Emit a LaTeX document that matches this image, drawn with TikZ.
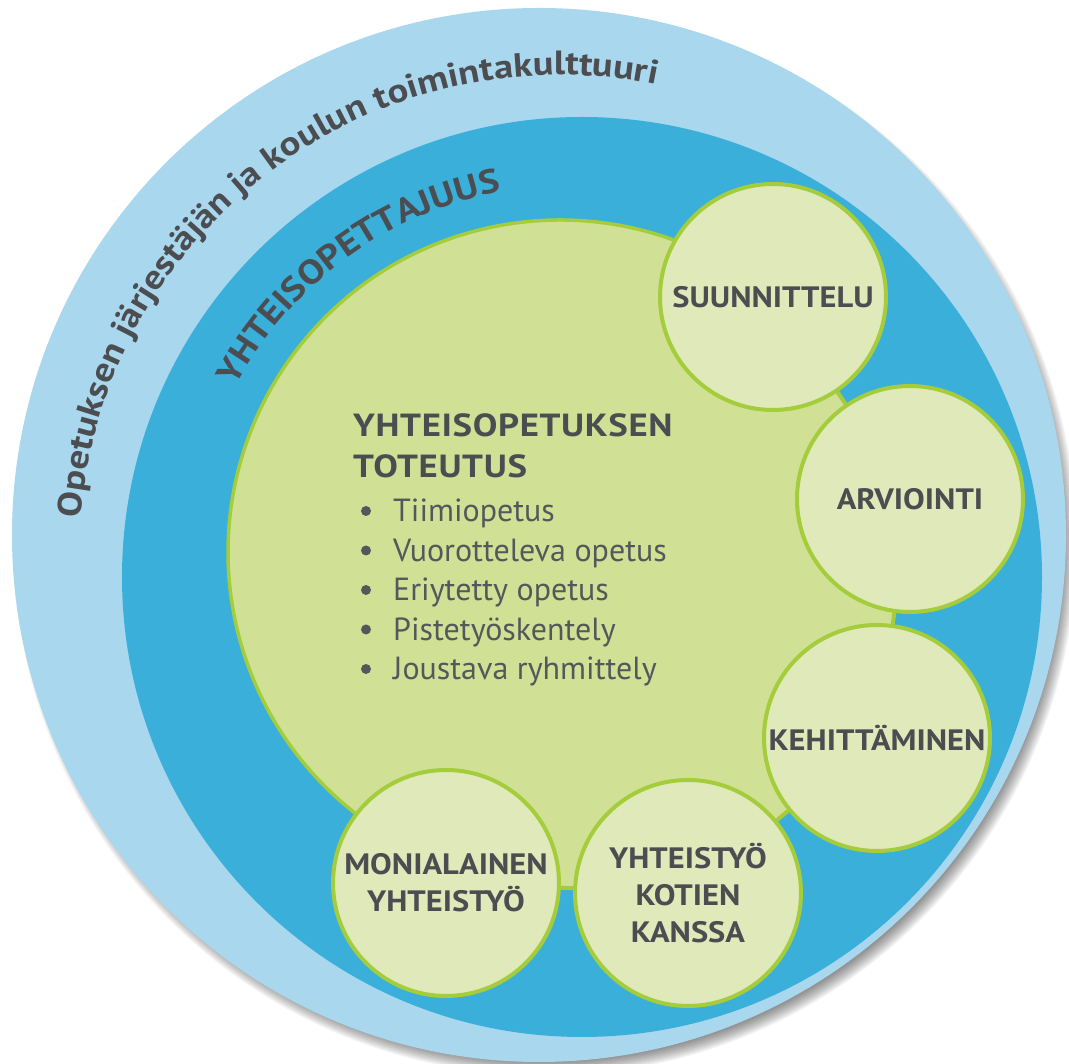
\documentclass[tikz,border=0pt]{standalone}
\usepackage{fontspec}
\setmainfont{PT Sans}
\newfontfamily\ringfont{PT Sans}[FakeStretch=1.15]
\newfontfamily\labelfont{PT Sans}[FakeStretch=1.1]
\newfontfamily\titlefont{PT Sans}[FakeStretch=1.15, LetterSpace=2]
\usetikzlibrary{decorations.text}
\definecolor{outerblue}{HTML}{A9D7EE}
\definecolor{ringblue}{HTML}{3AAFDA}
\definecolor{maingreen}{HTML}{D0E196}
\definecolor{smallgreen}{HTML}{DFE9BA}
\definecolor{limeborder}{HTML}{A5CC3A}
\definecolor{textgray}{HTML}{4B4D50}
\definecolor{bulletgray}{HTML}{55585B}
\begin{document}
\begin{tikzpicture}[x=1pt,y=1pt,
  topic/.style={circle, fill=smallgreen, draw=limeborder, line width=4pt, minimum size=226pt, inner sep=0pt, align=center, text=textgray, font=\labelfont\bfseries\fontsize{29.5}{37}\selectfont},
  bar/.style={draw=limeborder, line width=4pt},
  titleline/.style={anchor=base west, inner sep=0pt, text=textgray, font=\titlefont\bfseries\fontsize{32}{32}\selectfont},
  bulletitem/.style={anchor=base west, inner sep=0pt, text=bulletgray, font=\fontsize{32}{32}\selectfont},
  bulletdot/.style={fill=bulletgray},
  ringtext/.style={decorate, decoration={text along path, text color=textgray, text align=left, text={#1}}}
]
\useasboundingbox (0,0) rectangle (1069,1064);
\fill[white] (0,0) rectangle (1069,1064);
% shadow
\foreach \i in {0,...,11} {
  \fill[black, opacity=0.05] (545,520) circle ({515+\i*1.5});
}
% rings
\fill[outerblue] (539,529) circle (527);
\fill[ringblue] (582,487) circle (460);
% centres
\coordinate (C) at (560,512);
\coordinate (cS) at (773,767);
\coordinate (cA) at (910,565);
\coordinate (cK) at (877,326);
\coordinate (cY) at (688,171);
\coordinate (cM) at (446,181);
% main green shape
\begin{scope}
  \clip (cS) -- (cA) -- (cK) -- (cY) -- (cM) -- (218,-481) -- (-1000,-1000) -- (-1000,2000) -- (2000,2000) -- (1199,1277) -- cycle;
  \fill[maingreen] (C) circle (332);
  \fill[maingreen] (C) -- (cS) -- (cA) -- (cK) -- (cY) -- (cM) -- cycle;
\end{scope}
\draw[limeborder, line width=3.5pt] (C) ++(50:332) arc[start angle=50, end angle=251, radius=332];
% curved texts
{\ringfont\bfseries\fontsize{33.6}{33.6}\selectfont
\path[ringtext={Opetuksen järjestäjän ja koulun toimintakulttuuri}]
  (560,508) ++(175.5:481) arc[start angle=175.5, end angle=40, radius=481];
}
{\ringfont\bfseries\fontsize{33.8}{33.8}\selectfont
\path[ringtext={YHTEISOPETTAJUUS}]
  (571,499) ++(152:380) arc[start angle=152, end angle=60, radius=380];
}
% topic circles
\node[topic] (S) at (cS) {SUUNNITTELU};
\node[topic] (A) at (cA) {ARVIOINTI};
\node[topic] (K) at (cK) {KEHITTÄMINEN};
\node[topic] (Y) at (cY) {YHTEISTYÖ\\KOTIEN\\KANSSA};
\node[topic] (M) at (cM) {MONIALAINEN\\YHTEISTYÖ};
\draw[bar] (S) -- (A);
\draw[bar] (A) -- (K);
\draw[bar] (K) -- (Y);
\draw[bar] (Y) -- (M);
% central text
\node[titleline] (t1) at (353,627) {YHTEISOPETUKSEN};
\node[titleline] (t2) at (353,586) {TOTEUTUS};
\node[bulletitem] (b1) at (393,542) {Tiimiopetus};
\node[bulletitem] (b2) at (393,502.5) {Vuorotteleva opetus};
\node[bulletitem] (b3) at (393,463) {Eriytetty opetus};
\node[bulletitem] (b4) at (393,423.5) {Pistetyöskentely};
\node[bulletitem] (b5) at (393,384) {Joustava ryhmittely};
\foreach \b in {b1,b2,b3,b4,b5} {
  \fill[bulletdot] ([xshift=-27pt,yshift=11pt]\b.base west) circle (5);
}
\end{tikzpicture}
\end{document}
